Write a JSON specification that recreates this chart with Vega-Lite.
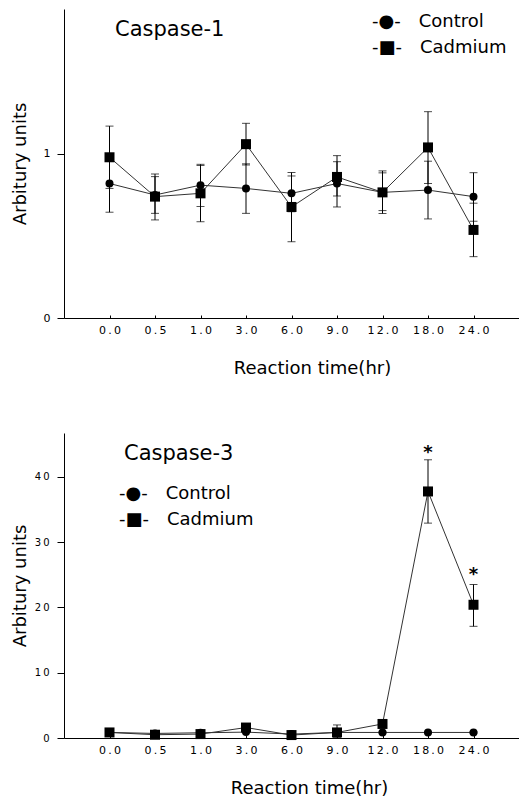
{
  "$schema": "https://vega.github.io/schema/vega-lite/v6.json",
  "padding": {"left": 11, "top": 9, "right": 0, "bottom": 0},
  "background": "white",
  "spacing": 56,
  "datasets": {
    "c1": [
      {"panel": "c1", "group": "Control", "time": "0.0", "idx": 1, "v": 0.82, "lo": 0.645, "hi": 0.995},
      {"panel": "c1", "group": "Control", "time": "0.5", "idx": 2, "v": 0.75, "lo": 0.638, "hi": 0.862},
      {"panel": "c1", "group": "Control", "time": "1.0", "idx": 3, "v": 0.81, "lo": 0.68, "hi": 0.93},
      {"panel": "c1", "group": "Control", "time": "3.0", "idx": 4, "v": 0.79, "lo": 0.638, "hi": 0.94},
      {"panel": "c1", "group": "Control", "time": "6.0", "idx": 5, "v": 0.76, "lo": 0.648, "hi": 0.866},
      {"panel": "c1", "group": "Control", "time": "9.0", "idx": 6, "v": 0.82, "lo": 0.677, "hi": 0.953},
      {"panel": "c1", "group": "Control", "time": "12.0", "idx": 7, "v": 0.766, "lo": 0.655, "hi": 0.885},
      {"panel": "c1", "group": "Control", "time": "18.0", "idx": 8, "v": 0.78, "lo": 0.604, "hi": 0.956},
      {"panel": "c1", "group": "Control", "time": "24.0", "idx": 9, "v": 0.74, "lo": 0.59, "hi": 0.886},
      {"panel": "c1", "group": "Cadmium", "time": "0.0", "idx": 1, "v": 0.98, "lo": 0.79, "hi": 1.17},
      {"panel": "c1", "group": "Cadmium", "time": "0.5", "idx": 2, "v": 0.74, "lo": 0.598, "hi": 0.878},
      {"panel": "c1", "group": "Cadmium", "time": "1.0", "idx": 3, "v": 0.76, "lo": 0.587, "hi": 0.937},
      {"panel": "c1", "group": "Cadmium", "time": "3.0", "idx": 4, "v": 1.06, "lo": 0.933, "hi": 1.187},
      {"panel": "c1", "group": "Cadmium", "time": "6.0", "idx": 5, "v": 0.677, "lo": 0.465, "hi": 0.887},
      {"panel": "c1", "group": "Cadmium", "time": "9.0", "idx": 6, "v": 0.86, "lo": 0.744, "hi": 0.99},
      {"panel": "c1", "group": "Cadmium", "time": "12.0", "idx": 7, "v": 0.766, "lo": 0.637, "hi": 0.897},
      {"panel": "c1", "group": "Cadmium", "time": "18.0", "idx": 8, "v": 1.04, "lo": 0.82, "hi": 1.258},
      {"panel": "c1", "group": "Cadmium", "time": "24.0", "idx": 9, "v": 0.537, "lo": 0.374, "hi": 0.7}
    ],
    "c3": [
      {"panel": "c3", "group": "Control", "time": "0.0", "idx": 1, "v": 0.85, "lo": 0.75, "hi": 0.95},
      {"panel": "c3", "group": "Control", "time": "0.5", "idx": 2, "v": 0.7, "lo": 0.6, "hi": 0.8},
      {"panel": "c3", "group": "Control", "time": "1.0", "idx": 3, "v": 0.8, "lo": 0.7, "hi": 0.9},
      {"panel": "c3", "group": "Control", "time": "3.0", "idx": 4, "v": 0.9, "lo": 0.8, "hi": 1.0},
      {"panel": "c3", "group": "Control", "time": "6.0", "idx": 5, "v": 0.6, "lo": 0.5, "hi": 0.7},
      {"panel": "c3", "group": "Control", "time": "9.0", "idx": 6, "v": 0.85, "lo": 0.75, "hi": 0.95},
      {"panel": "c3", "group": "Control", "time": "12.0", "idx": 7, "v": 0.85, "lo": 0.75, "hi": 0.95},
      {"panel": "c3", "group": "Control", "time": "18.0", "idx": 8, "v": 0.85, "lo": 0.75, "hi": 0.95},
      {"panel": "c3", "group": "Control", "time": "24.0", "idx": 9, "v": 0.85, "lo": 0.75, "hi": 0.95},
      {"panel": "c3", "group": "Cadmium", "time": "0.0", "idx": 1, "v": 0.85, "lo": 0.75, "hi": 0.95},
      {"panel": "c3", "group": "Cadmium", "time": "0.5", "idx": 2, "v": 0.5, "lo": 0.4, "hi": 0.6},
      {"panel": "c3", "group": "Cadmium", "time": "1.0", "idx": 3, "v": 0.6, "lo": 0.5, "hi": 0.7},
      {"panel": "c3", "group": "Cadmium", "time": "3.0", "idx": 4, "v": 1.6, "lo": 1.4, "hi": 1.8},
      {"panel": "c3", "group": "Cadmium", "time": "6.0", "idx": 5, "v": 0.45, "lo": 0.35, "hi": 0.55},
      {"panel": "c3", "group": "Cadmium", "time": "9.0", "idx": 6, "v": 0.85, "lo": 0.1, "hi": 2.0},
      {"panel": "c3", "group": "Cadmium", "time": "12.0", "idx": 7, "v": 2.15, "lo": 1.95, "hi": 2.35},
      {"panel": "c3", "group": "Cadmium", "time": "18.0", "idx": 8, "v": 37.75, "lo": 32.9, "hi": 42.6},
      {"panel": "c3", "group": "Cadmium", "time": "24.0", "idx": 9, "v": 20.4, "lo": 17.1, "hi": 23.5}
    ],
    "stars": [
      {"time": "18.0", "v": 44.2, "label": "*"},
      {"time": "24.0", "v": 25.6, "label": "*"}
    ]
  },
  "config": {
    "view": {"stroke": null},
    "font": "DejaVu Sans",
    "axis": {
      "grid": false,
      "domainColor": "#000",
      "tickColor": "#000",
      "labelColor": "#000",
      "titleColor": "#000",
      "labelFont": "DejaVu Sans",
      "titleFont": "DejaVu Sans",
      "titleFontWeight": "normal",
      "titleFontSize": 18,
      "labelFontSize": 11
    },
    "legend": {
      "labelFont": "DejaVu Sans",
      "labelFontSize": 18,
      "labelColor": "#000",
      "symbolOpacity": 0,
      "symbolSize": 1,
      "symbolStrokeWidth": 0,
      "labelOffset": 0,
      "rowPadding": 8
    }
  },
  "resolve": {
    "scale": {"y": "independent", "shape": "independent"},
    "legend": {"shape": "independent"}
  },
  "vconcat": [
    {
      "width": 455,
      "height": 309,
      "title": {"text": "Caspase-1", "anchor": "start", "frame": "group", "orient": "top", "offset": -48, "dx": 51, "baseline": "alphabetic", "fontSize": 21, "font": "DejaVu Sans", "fontWeight": "normal", "color": "#000"},
      "data": {"name": "c1"},
      "encoding": {
        "x": {
          "field": "time", "type": "ordinal",
          "sort": ["0.0", "0.5", "1.0", "3.0", "6.0", "9.0", "12.0", "18.0", "24.0"],
          "scale": {"type": "point", "padding": 1},
          "axis": {"title": "Reaction time(hr)", "labelAngle": 0, "tickSize": -3, "labelPadding": 9, "titlePadding": 24, "titleX": 248, "labelExpr": "join(split(datum.label, ''), '\u2009')"}
        }
      },
      "layer": [
        {
          "mark": {"type": "rule", "color": "#000", "strokeWidth": 1},
          "encoding": {
            "y": {"field": "lo", "type": "quantitative", "title": "Arbitury units",
              "scale": {"domain": [0, 1.884], "nice": false, "zero": false},
              "axis": {"values": [0, 1], "format": "d", "tickSize": 7, "labelPadding": 7, "labelFontSize": 11, "titleX": -35, "titleFontSize": 18}},
            "y2": {"field": "hi"}
          }
        },
        {
          "mark": {"type": "tick", "color": "#000", "size": 8, "thickness": 1},
          "encoding": {"y": {"field": "lo", "type": "quantitative", "title": "Arbitury units"}}
        },
        {
          "mark": {"type": "tick", "color": "#000", "size": 8, "thickness": 1},
          "encoding": {"y": {"field": "hi", "type": "quantitative", "title": "Arbitury units"}}
        },
        {
          "mark": {"type": "line", "color": "#333", "strokeWidth": 1},
          "encoding": {
            "y": {"field": "v", "type": "quantitative", "title": "Arbitury units"},
            "detail": {"field": "group", "type": "nominal"},
            "order": {"field": "idx", "type": "quantitative"}
          }
        },
        {
          "mark": {"type": "point", "filled": true, "color": "#000", "opacity": 1, "size": 64},
          "encoding": {
            "y": {"field": "v", "type": "quantitative", "title": "Arbitury units"},
            "shape": {"field": "group", "type": "nominal",
              "scale": {"domain": ["Control", "Cadmium"], "range": ["circle", "M-1.25,-1.25H1.25V1.25H-1.25Z"]},
              "legend": {"orient": "none", "legendX": 290, "legendY": 4, "title": null,
                "labelExpr": "datum.label == 'Control' ? '-●-\u2002\u2002Control' : '-■-\u2002\u2002Cadmium'"}}
          }
        }
      ]
    },
    {
      "width": 455,
      "height": 305,
      "title": {"text": "Caspase-3", "anchor": "start", "frame": "group", "orient": "top", "offset": -48, "dx": 60, "baseline": "alphabetic", "fontSize": 21, "font": "DejaVu Sans", "fontWeight": "normal", "color": "#000"},
      "data": {"name": "c3"},
      "encoding": {
        "x": {
          "field": "time", "type": "ordinal",
          "sort": ["0.0", "0.5", "1.0", "3.0", "6.0", "9.0", "12.0", "18.0", "24.0"],
          "scale": {"type": "point", "padding": 1},
          "axis": {"title": "Reaction time(hr)", "labelAngle": 0, "tickSize": -3, "labelPadding": 9, "titlePadding": 24, "titleX": 245, "labelExpr": "join(split(datum.label, ''), '\u2009')"}
        }
      },
      "layer": [
        {
          "mark": {"type": "rule", "color": "#000", "strokeWidth": 1},
          "encoding": {
            "y": {"field": "lo", "type": "quantitative", "title": "Arbitury units",
              "scale": {"domain": [0, 46.7], "nice": false, "zero": false},
              "axis": {"values": [0, 10, 20, 30, 40], "tickSize": 7, "labelPadding": 8, "labelFontSize": 10, "titleX": -35, "titleFontSize": 18, "labelExpr": "join(split(datum.label, ''), '\u2009')"}},
            "y2": {"field": "hi"}
          }
        },
        {
          "mark": {"type": "tick", "color": "#000", "size": 8, "thickness": 1},
          "encoding": {"y": {"field": "lo", "type": "quantitative", "title": "Arbitury units"}}
        },
        {
          "mark": {"type": "tick", "color": "#000", "size": 8, "thickness": 1},
          "encoding": {"y": {"field": "hi", "type": "quantitative", "title": "Arbitury units"}}
        },
        {
          "mark": {"type": "line", "color": "#333", "strokeWidth": 1},
          "encoding": {
            "y": {"field": "v", "type": "quantitative", "title": "Arbitury units"},
            "detail": {"field": "group", "type": "nominal"},
            "order": {"field": "idx", "type": "quantitative"}
          }
        },
        {
          "mark": {"type": "point", "filled": true, "color": "#000", "opacity": 1, "size": 64},
          "encoding": {
            "y": {"field": "v", "type": "quantitative", "title": "Arbitury units"},
            "shape": {"field": "group", "type": "nominal",
              "scale": {"domain": ["Control", "Cadmium"], "range": ["circle", "M-1.25,-1.25H1.25V1.25H-1.25Z"]},
              "legend": {"orient": "none", "legendX": 37, "legendY": 52, "title": null,
                "labelExpr": "datum.label == 'Control' ? '-●-\u2002\u2002Control' : '-■-\u2002\u2002Cadmium'"}}
          }
        },
        {
          "data": {"name": "stars"},
          "mark": {"type": "text", "fontSize": 18, "fontWeight": "bold", "baseline": "middle", "dy": 4, "color": "#000"},
          "encoding": {
            "y": {"field": "v", "type": "quantitative", "title": "Arbitury units"},
            "text": {"field": "label"}
          }
        }
      ]
    }
  ]
}
